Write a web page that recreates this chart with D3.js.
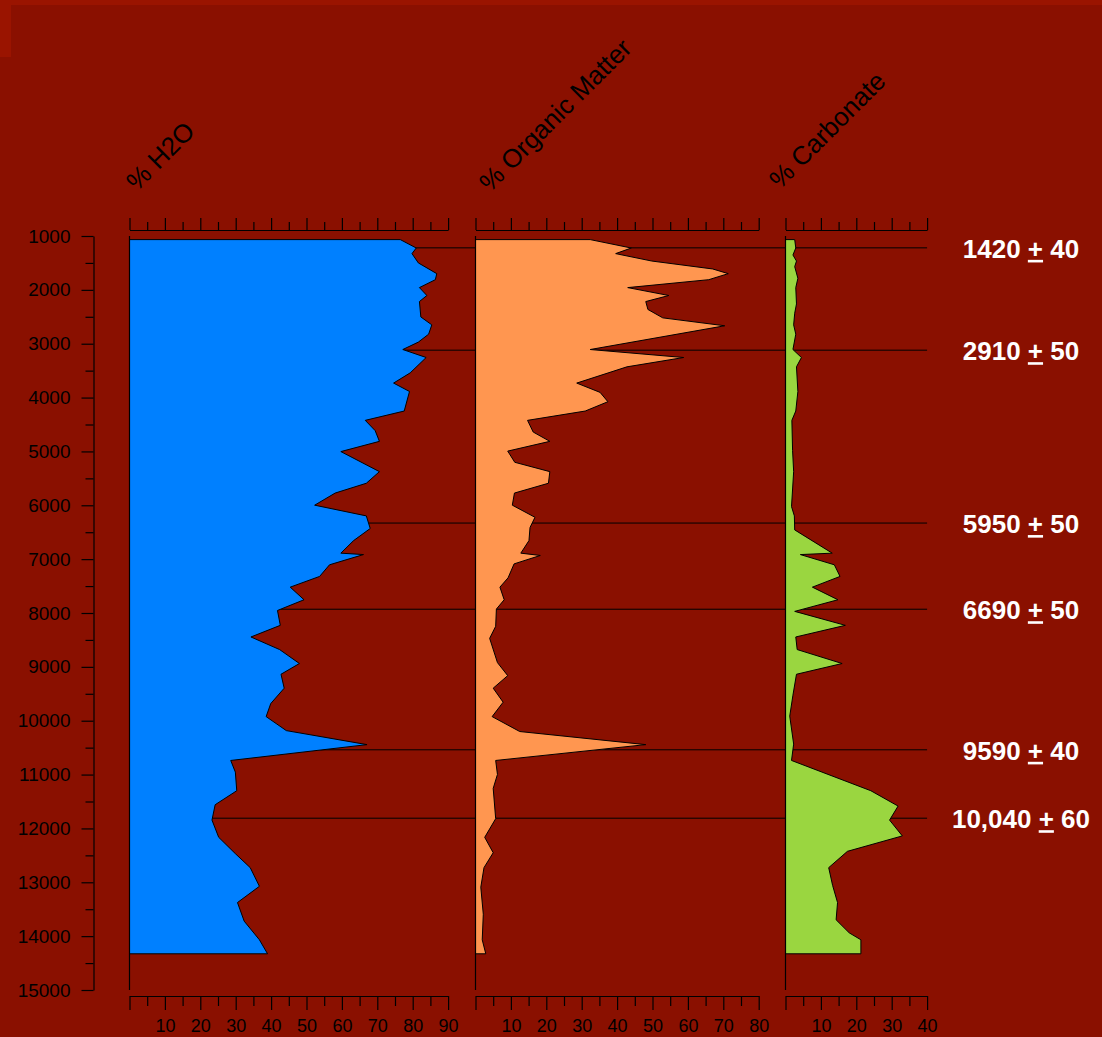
<!DOCTYPE html>
<html>
<head>
<meta charset="utf-8">
<script src="https://cdn.jsdelivr.net/npm/d3@7"></script>
<style>
  html, body { margin: 0; padding: 0; background: #8a1000; }
  svg { display: block; }
  text { font-family: "Liberation Sans", Arial, sans-serif; }
</style>
</head>
<body>
<svg id="chart" width="1102" height="1037"></svg>
<script>
// ---------------- DATA ----------------
const depthTicks = [1000,2000,3000,4000,5000,6000,7000,8000,9000,10000,11000,12000,13000,14000,15000];

const h2oDepth = [1067,1223,1327,1500,1699,1811,1958,2105,2217,2503,2650,2823,2970,3108,3256,3541,3731,3887,4250,4423,4614,4813,5003,5375,5591,5773,5998,6197,6431,6656,6889,6915,7105,7321,7520,7754,7953,8229,8445,8679,8938,9137,9396,9682,9924,10184,10444,10738,10954,11300,11560,11845,12165,12468,12728,13074,13376,13722,14068,14328];
const h2oValue = [76.5,81.0,79.8,81.6,86.8,86.4,81.9,84.0,81.9,82.3,85.4,84.5,81.6,77.2,83.8,79.3,74.6,79.1,77.6,66.6,69.4,70.6,59.7,70.6,66.9,58.1,52.3,66.9,68.0,63.3,59.7,66.1,56.5,53.7,45.4,49.3,41.8,42.6,34.3,42.4,48.0,42.8,43.7,39.9,38.6,44.3,67.1,28.6,29.9,30.3,24.2,23.3,25.2,29.9,34.1,36.7,30.5,32.4,36.7,39.0];

const omDepth = [1067,1223,1327,1465,1612,1699,1811,1958,2105,2217,2364,2520,2667,3108,3256,3429,3731,3904,4077,4250,4423,4640,4813,4994,5202,5375,5591,5773,5998,6223,6413,6656,6889,6932,7088,7347,7520,7754,7927,8247,8471,8921,9163,9396,9656,9924,10201,10444,10738,10997,11257,11819,12165,12451,12728,13091,13593,14068,14328];
const omValue = [32.4,44.0,39.6,49.8,67.0,71.4,65.9,43.0,54.6,48.1,48.7,52.9,70.4,32.4,58.8,42.8,28.6,35.2,37.4,31.0,14.7,16.3,21.0,9.1,11.1,21.0,20.6,11.0,10.4,16.8,15.4,15.1,12.8,18.3,10.9,9.2,6.9,8.1,5.9,5.7,4.0,6.2,9.1,5.0,7.8,4.7,12.5,48.1,5.7,6.2,5.0,5.7,2.6,5.0,2.4,1.5,2.2,1.9,2.9];

const carbDepth = [1067,1223,1353,1465,1569,1785,1958,2261,2434,2650,2823,3108,3256,3429,3887,4250,4423,4986,5375,6024,6197,6457,6889,6915,7105,7321,7520,7754,7970,8229,8445,8679,8938,9137,9526,9915,10434,10738,11300,11585,11845,12139,12425,12728,13057,13376,13697,13939,14068,14328];
const carbValue = [2.6,2.9,2.1,3.1,2.6,3.5,2.9,3.1,2.6,2.3,2.9,2.1,4.5,3.1,3.5,2.9,1.8,2.0,2.3,1.7,2.5,2.6,13.2,4.2,13.8,15.4,7.6,14.8,2.6,16.9,2.9,3.3,16.0,3.1,2.1,1.2,2.3,1.7,24.1,31.8,29.4,33.0,17.5,12.2,13.3,14.7,14.3,18.0,21.3,21.3];

const panelTitles = ["% H2O", "% Organic Matter", "% Carbonate"];
const panelMax = [90, 80, 40];
const h2oTickLabels = [10,20,30,40,50,60,70,80,90];
const omTickLabels = [10,20,30,40,50,60,70,80];
const carbTickLabels = [10,20,30,40];

const dateDepths = [1220, 3120, 6330, 7930, 10540, 11810];
const dateAges = ["1420", "2910", "5950", "6690", "9590", "10,040"];
const dateErrors = ["40", "50", "50", "50", "40", "60"];

// ---------------- LAYOUT ----------------
const svg = d3.select("#chart");
const BG = "#8a1000";
svg.append("rect").attr("width", 1102).attr("height", 1037).attr("fill", BG);
svg.append("rect").attr("x", 0).attr("y", 0).attr("width", 1102).attr("height", 5).attr("fill", "#9a1400");
svg.append("rect").attr("x", 0).attr("y", 0).attr("width", 11).attr("height", 57).attr("fill", "#9a1400");

const y = d3.scaleLinear().domain([1000, 15000]).range([236, 990]);
const pxPerUnit = 3.54;
const panelLeft = [129.5, 475.5, 785.5];
const xs = panelMax.map((m, i) => d3.scaleLinear().domain([0, m]).range([panelLeft[i], panelLeft[i] + m * pxPerUnit]));

const panels = [
  {depth: h2oDepth, value: h2oValue, color: "#0080ff", labels: h2oTickLabels, titleAt: [137, 192]},
  {depth: omDepth, value: omValue, color: "#ff9650", labels: omTickLabels, titleAt: [490, 193]},
  {depth: carbDepth, value: carbValue, color: "#9ad640", labels: carbTickLabels, titleAt: [780, 190]}
];

// Left depth axis
const leftAxis = svg.append("g").attr("transform", "translate(93.5,0)");
leftAxis.append("g")
  .call(d3.axisLeft(y).tickValues(d3.range(1500, 15000, 1000)).tickSize(8).tickSizeOuter(0).tickFormat(""))
  .call(g => g.select(".domain").remove());
leftAxis.append("g")
  .call(d3.axisLeft(y).tickValues(depthTicks).tickSize(12).tickSizeOuter(0).tickPadding(11).tickFormat(d3.format("d")));
leftAxis.selectAll("path, line").attr("stroke", "#000").attr("stroke-width", 1.2);
leftAxis.selectAll("text").attr("font-size", 19).attr("fill", "#000");

// Date lines (behind fills)
const lineX0 = xs[0].range()[0];
const lineX1 = xs[2].range()[1];
svg.append("g").selectAll("line").data(dateDepths).join("line")
  .attr("x1", lineX0).attr("x2", lineX1)
  .attr("y1", d => y(d)).attr("y2", d => y(d))
  .attr("stroke", "#000").attr("stroke-width", 1);

// Panels
panels.forEach((p, i) => {
  const x = xs[i];
  const pts = p.depth.map((d, k) => ({d, v: p.value[k]}));
  const area = d3.area().y(d => y(d.d)).x0(x(0)).x1(d => x(d.v));
  svg.append("path").datum(pts).attr("d", area)
    .attr("fill", p.color).attr("stroke", "#000").attr("stroke-width", 1).attr("stroke-linejoin", "miter");

  // panel left line
  svg.append("line").attr("x1", x(0)).attr("x2", x(0)).attr("y1", y(1000)).attr("y2", y(15000))
    .attr("stroke", "#000").attr("stroke-width", 1.2);

  const maj = d3.range(0, panelMax[i] + 1, 10);
  const min = d3.range(5, panelMax[i], 10);

  // top axis
  const top = svg.append("g").attr("transform", "translate(0,230)");
  top.append("g").call(d3.axisTop(x).tickValues(min).tickSize(8).tickSizeOuter(0).tickFormat(""))
    .call(g => g.select(".domain").remove());
  top.append("g").call(d3.axisTop(x).tickValues(maj).tickSize(12).tickSizeOuter(0).tickFormat(""));
  top.selectAll("path, line").attr("stroke", "#000").attr("stroke-width", 1.2);

  // bottom axis
  const bot = svg.append("g").attr("transform", "translate(0,996)");
  bot.append("g").call(d3.axisBottom(x).tickValues(min).tickSize(10).tickSizeOuter(0).tickFormat(""))
    .call(g => g.select(".domain").remove());
  bot.append("g").call(d3.axisBottom(x).tickValues(maj).tickSize(14).tickSizeOuter(0).tickPadding(9)
    .tickFormat(d => p.labels.includes(d) ? String(d) : ""));
  bot.selectAll("path, line").attr("stroke", "#000").attr("stroke-width", 1.2);
  bot.selectAll("text").attr("font-size", 18).attr("fill", "#000");

  // title
  svg.append("text")
    .attr("transform", `translate(${p.titleAt[0]},${p.titleAt[1]}) rotate(-45)`)
    .attr("font-size", 26).attr("fill", "#000")
    .text(panelTitles[i]);
});

// Date labels
const lab = svg.append("g").selectAll("text").data(dateDepths).join("text")
  .attr("x", 1021).attr("y", d => y(d) + 10)
  .attr("text-anchor", "middle")
  .attr("font-size", 26).attr("font-weight", "bold").attr("fill", "#fff");
lab.append("tspan").text((d, i) => dateAges[i] + " ");
lab.append("tspan").attr("text-decoration", "underline").style("text-decoration", "underline").text("+");
lab.append("tspan").text((d, i) => " " + dateErrors[i]);
</script>
</body>
</html>
